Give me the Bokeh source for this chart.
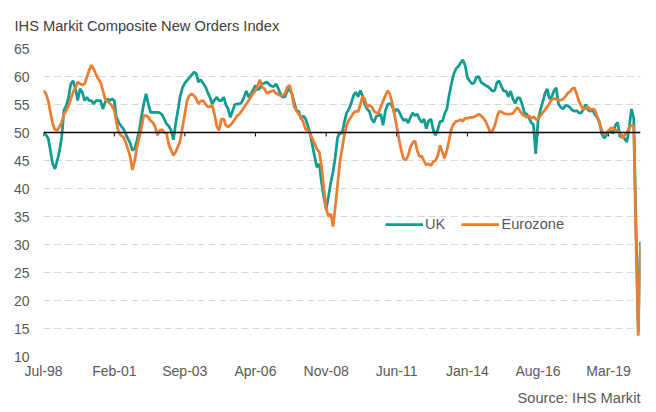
import pandas as pd
from bokeh.plotting import figure
from bokeh.models import (FixedTicker, DatetimeTickFormatter, Span, Legend,
                          LegendItem, Title, Range1d)
from bokeh.embed import file_html
from bokeh.resources import INLINE

# ---------------- data (monthly, Jul-1998 .. May-2020) ----------------
start_month = "1998-07-01"

uk = [
    49.8, 49.6, 49.0, 46.8, 44.4, 43.5, 45.0, 46.8, 49.2, 54.0,
    54.8, 56.3, 58.7, 59.2, 57.8, 55.7, 57.8, 57.2, 55.7, 56.3,
    55.7, 55.7, 55.1, 55.7, 55.7, 55.7, 54.2, 55.4, 56.0, 55.7,
    56.0, 55.7, 52.7, 51.8, 51.2, 50.7, 49.8, 48.9, 48.1, 46.8,
    47.1, 48.6, 50.4, 53.0, 55.1, 56.9, 55.1, 53.6, 53.6, 53.6,
    53.6, 53.5, 53.2, 52.4, 51.5, 51.1, 50.4, 48.7, 51.5, 54.0,
    56.5, 58.0, 58.8, 59.3, 59.8, 60.3, 60.8, 60.5, 59.0, 59.4,
    58.8, 58.2, 57.2, 56.3, 55.1, 55.8, 56.3, 55.7, 55.7, 56.3,
    55.0, 54.2, 52.7, 53.9, 55.0, 55.1, 55.1, 55.4, 56.4, 57.4,
    56.3, 56.9, 57.6, 58.4, 57.6, 58.0, 58.7, 58.8, 59.0, 58.6,
    58.3, 58.2, 58.7, 57.8, 56.9, 56.3, 56.4, 57.4, 57.8, 56.9,
    55.4, 53.9, 53.8, 52.4, 53.0, 52.4, 51.2, 49.8, 47.7, 45.6,
    43.8, 44.4, 41.0, 38.5, 36.3, 38.5, 41.0, 43.0, 45.5, 49.0,
    50.0, 49.8, 51.8, 53.5, 54.2, 55.2, 56.6, 57.2, 56.4, 57.5,
    56.6, 55.0, 54.2, 53.8, 52.4, 51.8, 52.9, 53.0, 53.3, 51.3,
    53.9, 55.0, 55.2, 54.8, 53.6, 54.2, 53.8, 52.9, 52.1, 52.4,
    51.7, 52.7, 53.5, 53.0, 53.3, 52.4, 51.8, 52.4, 50.7, 52.1,
    52.4, 50.5, 49.5, 50.5, 52.0, 52.0, 53.3, 54.2, 56.6, 58.7,
    60.4, 61.4, 61.8, 62.4, 63.0, 62.0, 59.8, 59.2, 58.7, 58.9,
    59.9, 60.0, 59.0, 58.7, 58.4, 58.2, 57.8, 57.4, 57.5, 59.0,
    59.2, 58.2, 57.4, 57.4, 56.4, 57.4, 56.0, 55.2, 56.2, 56.2,
    55.1, 53.5, 53.3, 52.6, 51.8, 51.4, 46.2, 52.1, 53.9, 55.4,
    56.9, 57.8, 56.0, 56.4, 57.4, 58.0, 55.1, 54.5, 54.2, 54.8,
    54.8, 54.5, 54.0, 53.8, 53.9, 53.5, 53.5, 54.2, 55.0, 54.0,
    53.8, 54.0, 53.2, 52.7, 51.8, 49.8, 49.0, 49.5, 50.1, 50.2,
    49.9, 51.3, 51.8, 49.2, 49.5, 48.9, 48.3, 50.7, 54.2, 52.5,
    34.0, 14.5, 30.5,
]

eurozone = [
    57.5, 57.0, 55.7, 53.6, 51.5, 50.5, 50.4, 51.1, 51.8, 53.3,
    53.9, 54.8, 56.0, 57.2, 58.0, 59.0, 58.7, 58.5, 58.7, 59.9,
    61.1, 62.0, 61.4, 60.4, 59.6, 59.0, 57.5, 56.0, 55.6, 55.2,
    54.8, 53.9, 51.8, 50.0, 49.5, 49.2, 48.3, 47.1, 45.6, 43.3,
    45.0, 47.4, 49.2, 51.0, 53.0, 53.0, 52.7, 52.1, 51.8, 51.0,
    49.5, 50.4, 50.5, 50.0, 49.8, 47.7, 46.9, 45.9, 46.5, 47.5,
    48.5, 51.0, 53.3, 55.7, 56.6, 56.9, 56.6, 56.0, 55.1, 55.6,
    55.7, 55.1, 54.6, 54.6, 54.8, 53.3, 51.1, 50.4, 52.4, 52.4,
    51.3, 51.0, 51.3, 51.8, 52.4, 53.0, 53.3, 53.9, 54.5, 55.1,
    55.7, 56.4, 57.0, 57.5, 58.4, 59.4, 58.1, 57.8, 57.0, 57.2,
    57.4, 57.5, 57.0, 56.8, 56.6, 56.6, 56.9, 58.1, 58.4, 56.9,
    54.6, 53.9, 53.3, 52.7, 51.8, 50.5, 50.5, 49.8, 48.9, 48.0,
    47.0, 46.5, 44.0, 40.0, 36.5, 35.0, 35.5, 33.2, 36.5, 40.5,
    44.5, 47.0, 49.5, 51.3, 52.2, 52.8, 53.5, 53.8, 53.7, 55.0,
    56.4, 56.0, 54.5, 54.9, 54.6, 53.8, 53.5, 53.5, 54.6, 55.6,
    56.6, 57.5, 56.9, 55.4, 53.3, 51.1, 48.9, 46.8, 45.3, 45.1,
    45.9, 47.4, 48.2, 48.5, 46.8, 45.7, 45.8, 44.9, 44.2, 44.4,
    44.1, 44.8, 45.0, 45.9, 47.7, 46.5, 45.4, 46.8, 48.6, 50.7,
    51.5, 52.0, 52.1, 52.3, 52.0, 52.6, 52.5, 52.7, 52.7, 52.8,
    53.0, 53.3, 53.0, 52.6, 52.0, 51.1, 50.0, 50.3, 51.2, 52.8,
    53.8, 53.7, 53.4, 53.3, 53.3, 53.3, 53.4, 54.0, 54.5, 53.9,
    53.3, 53.0, 52.7, 53.0, 52.5, 52.8, 52.4, 52.4, 53.0, 53.5,
    54.0, 54.6, 55.2, 55.9, 56.0, 56.0, 55.8, 55.8, 56.0, 56.4,
    57.0, 57.3, 57.8, 58.0, 56.8, 55.5, 54.8, 54.1, 54.4, 54.6,
    54.0, 54.2, 54.0, 52.8, 51.6, 50.5, 49.6, 50.0, 50.3, 50.8,
    50.8, 50.5, 50.2, 49.8, 49.0, 49.5, 50.0, 50.9, 51.3, 51.0,
    31.0, 13.7, 29.8,
]

y_ticks = [10, 15, 20, 25, 30, 35, 40, 45, 50, 55, 60, 65]
x_tick_labels = ["Jul-98", "Feb-01", "Sep-03", "Apr-06", "Nov-08",
                 "Jun-11", "Jan-14", "Aug-16", "Mar-19"]
series_names = ["UK", "Eurozone"]
title_text = "IHS Markit Composite New Orders Index"
source_text = "Source: IHS Markit"
reference_level = 50

# ---------------- derived positions ----------------
dates = pd.date_range(start=start_month, periods=len(uk), freq="MS")
tick_dates = [pd.to_datetime(s, format="%b-%y") for s in x_tick_labels]
tick_ms = [t.timestamp() * 1000.0 for t in tick_dates]

FONT = "Liberation Sans"
GREY = "#595959"
TEAL = "#119C92"
ORANGE = "#ED7D31"

p = figure(width=656, height=412, x_axis_type="datetime",
           output_backend="svg", toolbar_location=None,
           x_range=Range1d(dates[0], dates[-1]), y_range=Range1d(10, 65),
           min_border_left=43, min_border_right=16,
           min_border_top=48, min_border_bottom=56)
p.outline_line_color = None
p.background_fill_color = "white"
p.border_fill_color = "white"

# title (top-left)
p.title.text = title_text
p.title.align = "left"
p.title.offset = -29
p.title.standoff = 29
p.title.text_font = FONT
p.title.text_font_size = "14.67px"
p.title.text_font_style = "normal"
p.title.text_color = "#404040"

# y axis
p.yaxis.ticker = FixedTicker(ticks=y_ticks)
p.yaxis.axis_line_color = None
p.yaxis.major_tick_line_color = None
p.yaxis.major_tick_out = 0
p.yaxis.major_tick_in = 0
p.yaxis.minor_tick_line_color = None
p.yaxis.minor_tick_out = 0
p.yaxis.major_label_standoff = 14
p.yaxis.major_label_text_color = GREY
p.yaxis.major_label_text_font = FONT
p.yaxis.major_label_text_font_size = "14px"

# x axis
fmt = "%b-%y"
p.xaxis.ticker = FixedTicker(ticks=tick_ms)
p.xaxis.formatter = DatetimeTickFormatter(
    microseconds=fmt, milliseconds=fmt, seconds=fmt, minsec=fmt,
    minutes=fmt, hourmin=fmt, hours=fmt, days=fmt, months=fmt, years=fmt)
p.xaxis.axis_line_color = None
p.xaxis.major_tick_line_color = None
p.xaxis.major_tick_out = 0
p.xaxis.major_tick_in = 0
p.xaxis.minor_tick_line_color = None
p.xaxis.minor_tick_out = 0
p.xaxis.major_label_standoff = 6
p.xaxis.major_label_text_color = GREY
p.xaxis.major_label_text_font = FONT
p.xaxis.major_label_text_font_size = "14px"

# grid
p.xgrid.visible = False
p.ygrid.grid_line_color = "#D9D9D9"
p.ygrid.grid_line_dash = "7 4"
p.ygrid.grid_line_width = 1

# 50 reference line with small ticks
p.add_layout(Span(location=reference_level, dimension="width",
                  line_color="black", line_width=1.5))
p.segment(x0=tick_dates, y0=[reference_level] * len(tick_dates),
          x1=tick_dates, y1=[reference_level - 0.7] * len(tick_dates),
          line_color="black", line_width=1)

r_uk = p.line(dates, uk, line_color=TEAL, line_width=2.75)
r_ez = p.line(dates, eurozone, line_color=ORANGE, line_width=2.75)

legend = Legend(items=[LegendItem(label=series_names[0], renderers=[r_uk]),
                       LegendItem(label=series_names[1], renderers=[r_ez])],
                location=(342, 124), orientation="horizontal",
                glyph_width=38, glyph_height=16, label_standoff=2,
                spacing=16, padding=0, margin=0,
                border_line_color=None, background_fill_alpha=0,
                label_text_font=FONT, label_text_font_size="14.67px",
                label_text_color=GREY)
p.add_layout(legend)

# source note (bottom-right)
p.add_layout(Title(text=source_text, align="right", offset=0, standoff=12,
                   text_font=FONT, text_font_size="14.67px",
                   text_font_style="normal", text_color=GREY), "below")

open("out.html", "w").write(file_html(p, INLINE))
